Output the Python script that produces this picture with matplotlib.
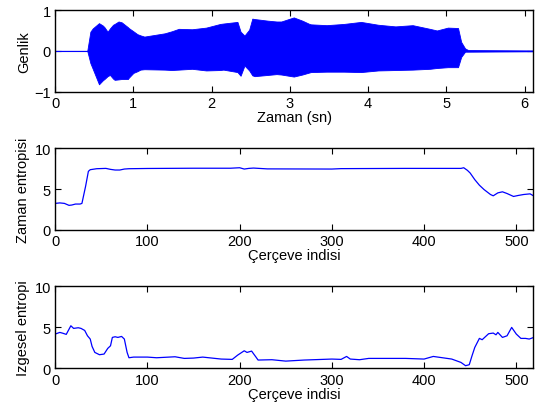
import matplotlib.pyplot as plt

plt.rcParams['font.family'] = ['Liberation Sans', 'DejaVu Sans']

# waveform envelope (time in s, amplitude)
env_t = [0.0, 0.41, 0.45, 0.48, 0.56, 0.61, 0.63, 0.67, 0.70, 0.74, 0.76, 0.81,
         0.85, 0.93, 0.94, 1.0, 1.05, 1.09, 1.14, 1.4, 1.49, 1.58, 1.75, 1.93,
         2.11, 2.15, 2.33, 2.37, 2.42, 2.48, 2.52, 2.55, 2.72, 2.83, 2.89, 3.05,
         3.16, 3.25, 3.27, 3.47, 3.69, 3.91, 4.13, 4.35, 4.57, 4.79, 4.88, 5.02,
         5.15, 5.19, 5.24, 5.28, 6.11]
env_hi = [0.0, 0.0, 0.47, 0.55, 0.68, 0.62, 0.58, 0.47, 0.55, 0.64, 0.66, 0.72,
          0.70, 0.58, 0.56, 0.48, 0.41, 0.38, 0.35, 0.43, 0.48, 0.54, 0.53, 0.57,
          0.66, 0.67, 0.71, 0.47, 0.375, 0.52, 0.79, 0.78, 0.74, 0.72, 0.72, 0.82,
          0.74, 0.66, 0.65, 0.63, 0.66, 0.71, 0.64, 0.60, 0.63, 0.54, 0.50, 0.57,
          0.56, 0.22, 0.06, 0.02, 0.01]
env_lo = [0.0, 0.0, -0.30, -0.44, -0.82, -0.72, -0.69, -0.62, -0.59, -0.68, -0.71, -0.70,
          -0.69, -0.69, -0.66, -0.54, -0.50, -0.46, -0.45, -0.46, -0.47, -0.46, -0.44, -0.48,
          -0.47, -0.46, -0.52, -0.61, -0.36, -0.48, -0.60, -0.62, -0.59, -0.57, -0.58, -0.63,
          -0.58, -0.53, -0.52, -0.51, -0.51, -0.52, -0.48, -0.47, -0.46, -0.44, -0.42, -0.40,
          -0.40, -0.15, -0.02, -0.02, -0.01]

# time entropy per frame
te_f = [0, 5, 10, 15, 18, 22, 27, 29, 33, 36, 38, 45, 55, 60, 65, 70, 75, 80, 100,
        150, 190, 200, 205, 210, 215, 230, 300, 310, 380, 440, 443, 447, 450, 455,
        460, 465, 472, 475, 480, 485, 490, 497, 502, 508, 515, 518]
te_v = [3.24, 3.30, 3.24, 3.00, 3.04, 3.16, 3.16, 3.24, 5.35, 7.17, 7.37, 7.49, 7.53,
        7.41, 7.33, 7.33, 7.45, 7.49, 7.52, 7.55, 7.55, 7.61, 7.45, 7.53, 7.57, 7.47,
        7.45, 7.50, 7.53, 7.53, 7.61, 7.29, 6.96, 6.15, 5.47, 4.94, 4.33, 4.17, 4.53,
        4.66, 4.45, 4.09, 4.21, 4.33, 4.41, 4.21]

# spectral entropy per frame
se_f = [0, 5, 8, 12, 17, 20, 25, 28, 32, 35, 38, 40, 43, 48, 53, 57, 60, 62, 65, 68,
        72, 75, 78, 80, 85, 100, 110, 130, 140, 150, 160, 170, 180, 192, 198, 205,
        208, 213, 218, 220, 235, 250, 270, 300, 310, 316, 320, 330, 340, 380, 400,
        410, 420, 430, 440, 445, 449, 452, 455, 460, 463, 470, 475, 478, 480, 485,
        490, 495, 500, 505, 510, 514, 518]
se_v = [4.19, 4.39, 4.30, 4.15, 5.20, 4.88, 4.96, 4.88, 4.63, 3.98, 3.58, 2.68, 1.95,
        1.67, 1.75, 2.44, 2.76, 3.78, 3.86, 3.78, 3.90, 3.58, 1.95, 1.30, 1.38, 1.38,
        1.30, 1.42, 1.22, 1.26, 1.38, 1.26, 1.14, 1.10, 1.63, 2.15, 1.95, 2.11, 1.34,
        1.02, 1.06, 0.89, 1.02, 1.14, 1.10, 1.46, 1.14, 1.06, 1.22, 1.22, 1.14, 1.46,
        1.30, 1.14, 0.73, 0.33, 0.45, 1.54, 2.56, 3.66, 3.50, 4.23, 4.31, 4.10, 4.39,
        3.78, 3.98, 5.00, 4.19, 3.66, 3.66, 3.58, 3.74]

fig = plt.figure(figsize=(5.41, 4.10), dpi=100)
ax1 = fig.add_axes([0.102, 0.774, 0.883, 0.199])
ax2 = fig.add_axes([0.102, 0.437, 0.883, 0.199])
ax3 = fig.add_axes([0.102, 0.099, 0.883, 0.200])

blue = '#0000ff'
ax1.fill_between(env_t, env_lo, env_hi, color=blue, linewidth=0.6)
ax1.plot([0, 6.11], [0, 0], color=blue, linewidth=0.8)
ax1.set_xlim(0, 6.107)
ax1.set_ylim(-1, 1)
ax1.set_xticks(range(7))
ax1.set_yticks([-1, 0, 1])
ax1.set_xlabel('Zaman (sn)', labelpad=0)
ax1.set_ylabel('Genlik', labelpad=2)

ax2.plot(te_f, te_v, color=blue, linewidth=0.9)
ax2.set_ylabel('Zaman entropisi', labelpad=3)

ax3.plot(se_f, se_v, color=blue, linewidth=0.9)
ax3.set_ylabel('Izgesel entropi', labelpad=3)

for ax in (ax2, ax3):
    ax.set_xlim(0, 518)
    ax.set_ylim(0, 10)
    ax.set_xticks(range(0, 501, 100))
    ax.set_yticks([0, 5, 10])
    ax.set_xlabel('Çerçeve indisi', labelpad=0)

for ax in (ax1, ax2, ax3):
    ax.tick_params(direction='in', top=True, right=True, labelsize=10.5,
                   length=4, width=0.8, pad=3)
    for s in ax.spines.values():
        s.set_linewidth(1.0)
    ax.xaxis.label.set_size(10.5)
    ax.yaxis.label.set_size(10.5)

fig.savefig('out.png', dpi=100)
